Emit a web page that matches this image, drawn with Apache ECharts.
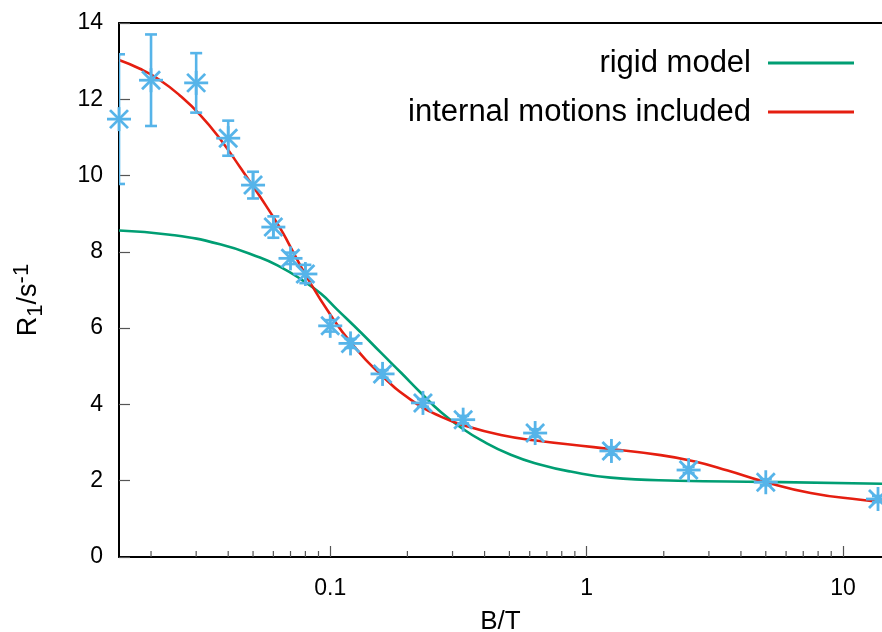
<!DOCTYPE html>
<html>
<head>
<meta charset="utf-8">
<script src="https://cdn.jsdelivr.net/npm/echarts@6/dist/echarts.min.js"></script>
<style>
html, body { margin: 0; padding: 0; background: #fff; }
#chart { width: 882px; height: 632px; }
</style>
</head>
<body>
<div id="chart"></div>
<script>
// measured points: field B/T, R1/s^-1 and its error
var fieldB = [0.015, 0.02, 0.03, 0.04, 0.05, 0.06, 0.07, 0.08, 0.1, 0.12, 0.16, 0.23, 0.33, 0.63, 1.25, 2.5, 5, 13.7];
var rate = [11.48, 12.5, 12.43, 10.98, 9.75, 8.65, 7.83, 7.42, 6.06, 5.6, 4.8, 4.04, 3.6, 3.25, 2.78, 2.28, 1.96, 1.52];
var rateErr = [1.7, 1.2, 0.78, 0.46, 0.35, 0.28, 0.15, 0.24, 0.15, 0.12, 0.1, 0.1, 0.1, 0.1, 0.1, 0.08, 0.08, 0.08];

// rigid model curve
var rigidB = [0.015, 0.0237, 0.0372, 0.0532, 0.0641, 0.0762, 0.0921, 0.106, 0.132, 0.158, 0.189, 0.226, 0.27, 0.323, 0.386, 0.506, 0.662, 0.866, 1.24, 2.27, 5.0, 14.2];
var rigidR = [8.56, 8.45, 8.2, 7.85, 7.6, 7.3, 6.9, 6.5, 5.88, 5.35, 4.83, 4.3, 3.8, 3.4, 3.07, 2.68, 2.42, 2.24, 2.08, 2.0, 1.97, 1.92];

// internal motions included curve
var motionB = [0.015, 0.0181, 0.0217, 0.0259, 0.031, 0.0372, 0.0445, 0.0532, 0.0637, 0.0697, 0.0809, 0.1006, 0.1204, 0.1577, 0.2065, 0.27, 0.344, 0.463, 0.622, 1.066, 1.946, 2.62, 3.55, 4.91, 7.48, 11.7, 14.2];
var motionR = [13.03, 12.8, 12.5, 12.1, 11.6, 10.96, 10.22, 9.45, 8.63, 8.15, 7.35, 6.33, 5.62, 4.78, 4.12, 3.68, 3.42, 3.2, 3.06, 2.88, 2.67, 2.51, 2.27, 1.98, 1.68, 1.5, 1.45];

// minor ticks of the log axis
var minorTicks = [0.02, 0.03, 0.04, 0.05, 0.06, 0.07, 0.08, 0.09, 0.2, 0.3, 0.4, 0.5, 0.6, 0.7, 0.8, 0.9, 2, 3, 4, 5, 6, 7, 8, 9];

var blue = '#56b4e9';
var font = 'Liberation Sans, Arial, Helvetica, sans-serif';

function zip(a, b) {
	var out = [];
	for(var i = 0; i < a.length; i++) {
		out.push([a[i], b[i]]);
	}
	return out;
}

var points = [];
for(var i = 0; i < fieldB.length; i++) {
	points.push([fieldB[i], rate[i], rateErr[i]]);
}

function seg(x1, y1, x2, y2, w, color) {
	return {
		type: 'line',
		shape: { x1: x1, y1: y1, x2: x2, y2: y2 },
		style: { stroke: color, lineWidth: w }
	};
}

var option = {
	animation: false,
	backgroundColor: '#fff',
	grid: { left: 119, right: 0, top: 23, bottom: 75, outerBoundsMode: 'none', containLabel: false },
	legend: {
		data: ['rigid model', 'internal motions included'],
		orient: 'vertical',
		align: 'right',
		icon: 'rect',
		right: 23,
		top: 42,
		itemWidth: 86,
		itemHeight: 3,
		itemGap: 17,
		selectedMode: false,
		textStyle: { fontFamily: font, fontSize: 31, color: '#000', lineHeight: 32, padding: [0, 12, 0, 0] }
	},
	xAxis: [{
		type: 'log',
		logBase: 10,
		min: 0.015,
		max: 14.2,
		name: 'B/T',
		nameLocation: 'middle',
		nameGap: 52,
		nameTextStyle: { fontFamily: font, fontSize: 26, color: '#000' },
		axisLine: { show: true, lineStyle: { color: '#000', width: 2 } },
		axisTick: { show: true, inside: true, length: 11, lineStyle: { color: '#555', width: 1.2 } },
		axisLabel: {
			fontFamily: font, fontSize: 23, color: '#000', margin: 20,
			showMinLabel: false, showMaxLabel: false,
			formatter: function(v) {
				var l = Math.log10(v);
				if(Math.abs(l - Math.round(l)) < 1e-6) {
					return String(+v.toPrecision(3));
				}
				return '';
			}
		},
		splitLine: { show: false },
		minorTick: { show: false }
	}, {
		type: 'value',
		position: 'top',
		axisLine: { show: true, onZero: false, lineStyle: { color: '#000', width: 2 } },
		axisTick: { show: false },
		axisLabel: { show: false },
		splitLine: { show: false }
	}],
	yAxis: {
		type: 'value',
		min: 0,
		max: 14,
		interval: 2,
		name: '{a|R}{sub|1}{a|/s}{sup|-1}',
		nameLocation: 'middle',
		nameRotate: 90,
		nameGap: 72,
		nameTextStyle: {
			fontFamily: font, fontSize: 27, color: '#000',
			padding: [0, 20, 0, 0],
			rich: {
				a: { fontFamily: font, fontSize: 27, color: '#000', lineHeight: 36 },
				sub: { fontFamily: font, fontSize: 22, color: '#000', verticalAlign: 'bottom', lineHeight: 22 },
				sup: { fontFamily: font, fontSize: 22, color: '#000', verticalAlign: 'top', lineHeight: 22 }
			}
		},
		axisLine: { show: true, lineStyle: { color: '#000', width: 2 } },
		axisTick: { show: true, inside: true, length: 11, lineStyle: { color: '#555', width: 1.2 } },
		axisLabel: { fontFamily: font, fontSize: 23, color: '#000', margin: 16 },
		splitLine: { show: false }
	},
	series: [{
		name: 'minor ticks',
		type: 'custom',
		data: minorTicks,
		encode: { x: 0 },
		silent: true,
		renderItem: function(params, api) {
			var p = api.coord([api.value(0), 0]);
			return seg(p[0], p[1], p[0], p[1] - 6, 1.2, '#555');
		}
	}, {
		name: 'rigid model',
		type: 'line',
		data: zip(rigidB, rigidR),
		showSymbol: false,
		symbol: 'none',
		smooth: 0.5,
		color: '#009e73',
		lineStyle: { color: '#009e73', width: 2.6 },
		z: 3
	}, {
		name: 'internal motions included',
		type: 'line',
		data: zip(motionB, motionR),
		showSymbol: false,
		symbol: 'none',
		smooth: 0.5,
		color: '#e51e10',
		lineStyle: { color: '#e51e10', width: 2.6 },
		z: 4
	}, {
		name: 'error bars',
		type: 'custom',
		data: points,
		encode: { x: 0, y: 1 },
		clip: true,
		z: 5,
		renderItem: function(params, api) {
			var x = api.value(0), y = api.value(1), e = api.value(2);
			var top = api.coord([x, y + e]);
			var bot = api.coord([x, y - e]);
			var c = 6;
			return {
				type: 'group',
				children: [
					seg(top[0], top[1], bot[0], bot[1], 2.6, blue),
					seg(top[0] - c, top[1], top[0] + c, top[1], 2.6, blue),
					seg(bot[0] - c, bot[1], bot[0] + c, bot[1], 2.6, blue)
				]
			};
		}
	}, {
		name: 'points',
		type: 'custom',
		data: points,
		encode: { x: 0, y: 1 },
		clip: false,
		z: 6,
		renderItem: function(params, api) {
			var p = api.coord([api.value(0), api.value(1)]);
			var a = 12, d = 9;
			return {
				type: 'group',
				children: [
					seg(p[0] - a, p[1], p[0] + a, p[1], 2.8, blue),
					seg(p[0], p[1] - a, p[0], p[1] + a, 2.8, blue),
					seg(p[0] - d, p[1] - d, p[0] + d, p[1] + d, 2.8, blue),
					seg(p[0] - d, p[1] + d, p[0] + d, p[1] - d, 2.8, blue)
				]
			};
		}
	}]
};

var chart = echarts.init(document.getElementById('chart'), null, { renderer: 'canvas' });
chart.setOption(option);
</script>
</body>
</html>
